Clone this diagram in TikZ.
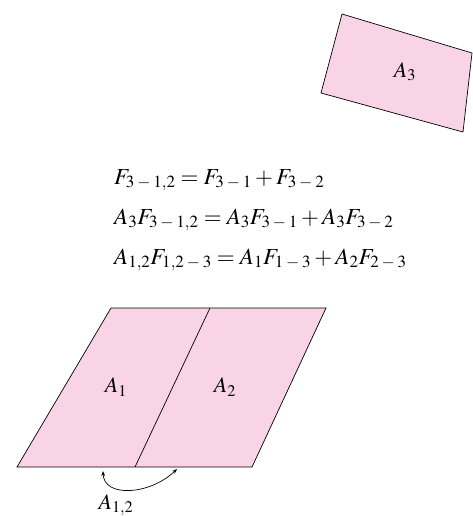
\documentclass[tikz,border=0pt]{standalone}
\usepackage{mathptmx}
\usetikzlibrary{arrows.meta, positioning}

\definecolor{panelpink}{RGB}{249,211,230}
\newcommand{\mn}{\mskip3mu{-}\mskip3mu}

\begin{document}
\begin{tikzpicture}[
x=1pt, y=-1pt,
% Define styles
surface/.style = {draw=black, line width=0.7pt, fill=panelpink, line join=miter},
lbl/.style = {inner sep=0pt, font=\fontsize{22}{26}\selectfont},
eqtext/.style = {inner sep=0pt, anchor=base west, font=\fontsize{23}{27}\selectfont},
arrow/.style = {line width=0.7pt, {Stealth[length=5pt]}-{Stealth[length=5pt]}}
]
\useasboundingbox (0,0) rectangle (473,516);

% Corners
\coordinate (p3a) at (342,14);
\coordinate (p3b) at (472,53);
\coordinate (p3c) at (463,132);
\coordinate (p3d) at (321,93);

\coordinate (pTL) at (111,308);
\coordinate (pTR) at (326,308);
\coordinate (pBR) at (252,467);
\coordinate (pBL) at (17,467);
\coordinate (pMT) at (210,308);
\coordinate (pMB) at (135,467);

% Surfaces
\draw [surface] (p3a) -- (p3b) -- (p3c) -- (p3d) -- cycle;
\draw [surface] (pTL) -- (pTR) -- (pBR) -- (pBL) -- cycle;
\draw [line width=0.7pt] (pMT) -- (pMB);

% Labels
\node (areaC) [lbl] at (405,72) {$A_3$};
\node (areaA) [lbl] at (116,387) {$A_1$};
\node (areaB) [lbl] at (225,387) {$A_2$};
\node (areaAB) [lbl, anchor=base] at (116,509) {$A_{1,2}$};

% Equations
\node (eqA) [eqtext] at (114,184) {$F_{3\mn1,2}=F_{3\mn1}+F_{3\mn2}$};
\node (eqB) [eqtext] at (114,224) {$A_3F_{3\mn1,2}=A_3F_{3\mn1}+A_3F_{3\mn2}$};
\node (eqC) [eqtext] at (114,264) {$A_{1,2}F_{1,2\mn3}=A_1F_{1\mn3}+A_2F_{2\mn3}$};

% Arrow
\coordinate (tipL) at (103,471);
\coordinate (tipR) at (177,469);
\draw [arrow] (tipL) .. controls (104,498) and (150,495) .. (tipR);
\end{tikzpicture}
\end{document}
